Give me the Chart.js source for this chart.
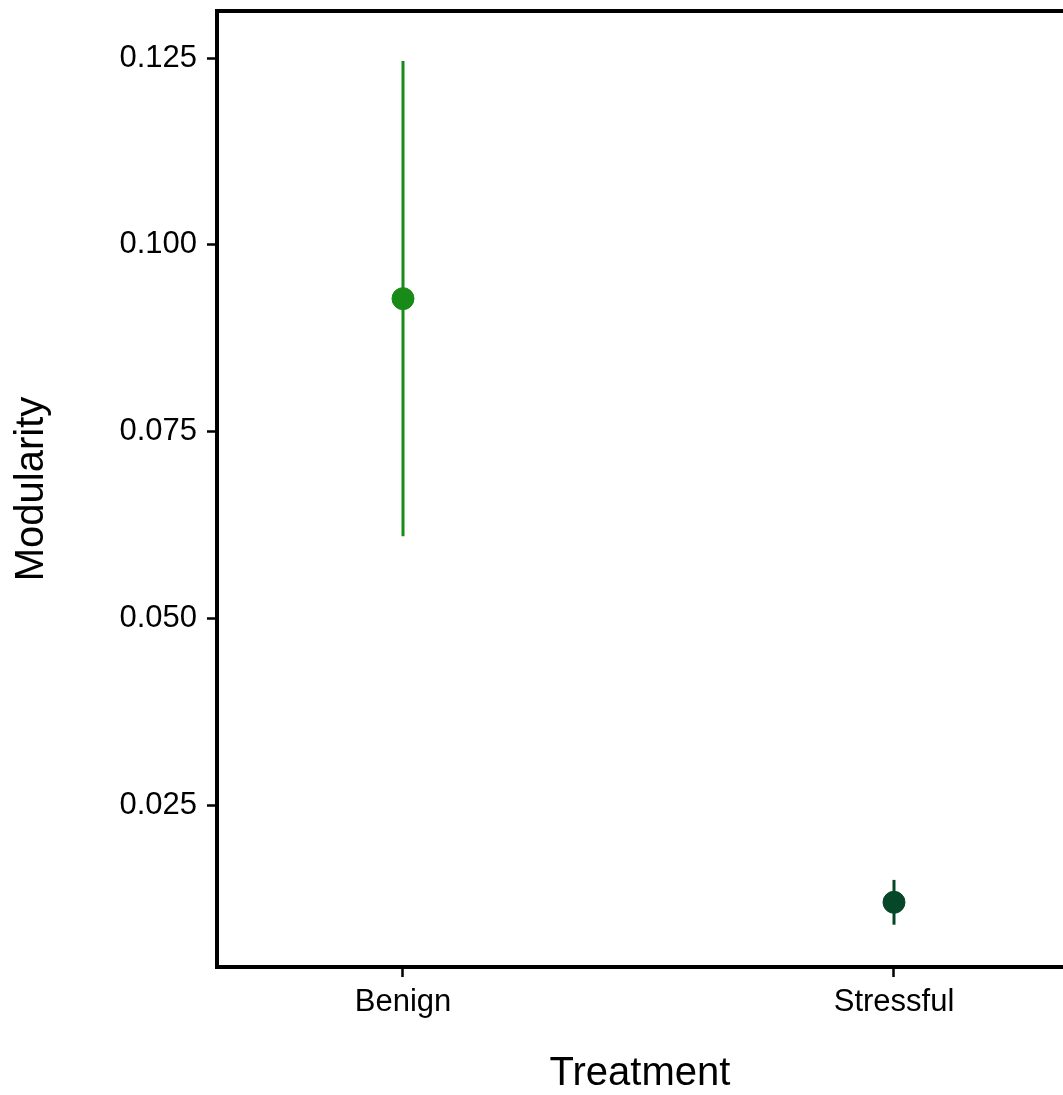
<!DOCTYPE html>
<html>
<head>
<meta charset="utf-8">
<script src="https://cdn.jsdelivr.net/npm/chart.js@4/dist/chart.umd.min.js"></script>
<style>
    body { margin: 0; background: #fff; }
    #wrap { width: 1063px; height: 1095px; }
</style>
</head>
<body>
<div id="wrap"><canvas id="modChart" width="1063" height="1095"></canvas></div>
<script>
const treatments = ['Benign', 'Stressful'];
const modularity = [0.0928, 0.0120];
const lowerCI = [0.0610, 0.0090];
const upperCI = [0.1246, 0.0150];
const yTicks = [0.025, 0.050, 0.075, 0.100, 0.125];
const pointColors = ['#178a17', '#06472a'];

const fontFamily = '"Liberation Sans", Arial, Helvetica, sans-serif';

// drop the automatic label padding so the plot area sits where we want it
function noPad(scale) {
    scale.paddingTop = 0;
    scale.paddingBottom = 0;
    scale.paddingLeft = 0;
    scale.paddingRight = 0;
}

const errorSets = treatments.map((t, i) => ({
    type: 'line',
    data: [{ x: i, y: lowerCI[i] }, { x: i, y: upperCI[i] }],
    borderColor: pointColors[i],
    borderWidth: 3,
    pointRadius: 0,
    showLine: true,
    order: 2
}));

new Chart(document.getElementById('modChart'), {
    type: 'scatter',
    data: {
        datasets: [...errorSets, {
            data: treatments.map((t, i) => ({ x: i, y: modularity[i] })),
            backgroundColor: pointColors,
            borderColor: pointColors,
            pointRadius: 11,
            order: 1
        }]
    },
    options: {
        responsive: false,
        animation: false,
        layout: { autoPadding: false, padding: { top: 11, right: 0, bottom: 0, left: 0 } },
        plugins: { legend: { display: false }, tooltip: { enabled: false } },
        scales: {
            x: {
                type: 'linear',
                position: 'bottom',
                min: -0.3788,
                max: 1.3442,
                afterBuildTicks: scale => { scale.ticks = treatments.map((t, i) => ({ value: i })); },
                afterFit: scale => { scale.height = 128; noPad(scale); },
                ticks: {
                    callback: v => treatments[v],
                    color: '#000',
                    padding: 7,
                    maxRotation: 0,
                    font: { family: fontFamily, size: 31 }
                },
                grid: { drawOnChartArea: false, tickLength: 10, tickWidth: 2.5, tickColor: '#000' },
                border: { color: '#000', width: 4 },
                title: {
                    display: true,
                    text: 'Treatment',
                    color: '#000',
                    padding: 0,
                    font: { family: fontFamily, size: 40, lineHeight: 1.05 }
                }
            },
            xTop: {
                type: 'linear',
                position: 'top',
                min: -0.3788,
                max: 1.3442,
                afterFit: scale => { scale.height = 0; noPad(scale); },
                ticks: { display: false },
                grid: { display: false },
                border: { color: '#000', width: 4 }
            },
            y: {
                min: 0.00334,
                max: 0.1313,
                afterBuildTicks: scale => { scale.ticks = yTicks.map(v => ({ value: v })); },
                afterFit: scale => { scale.width = 217; noPad(scale); },
                ticks: {
                    callback: v => v.toFixed(3),
                    color: '#000',
                    padding: 10,
                    font: { family: fontFamily, size: 31 }
                },
                grid: { drawOnChartArea: false, tickLength: 10, tickWidth: 2.5, tickColor: '#000' },
                border: { color: '#000', width: 4 },
                title: {
                    display: true,
                    text: 'Modularity',
                    color: '#000',
                    padding: { top: 8, bottom: 0 },
                    font: { family: fontFamily, size: 40 }
                }
            }
        }
    }
});
</script>
</body>
</html>
